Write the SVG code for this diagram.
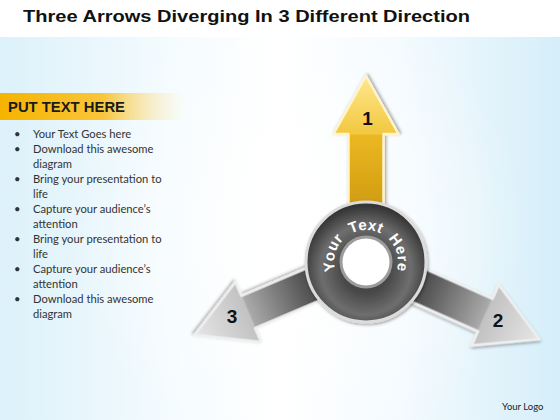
<svg xmlns="http://www.w3.org/2000/svg" width="560" height="420" viewBox="0 0 560 420">
<defs>
<style>
.title{font-family:"Liberation Sans",Arial,sans-serif;font-weight:bold;font-size:17px;fill:#111}
.head{font-family:"Liberation Sans",Arial,sans-serif;font-weight:bold;font-size:14.5px;fill:#1a1a1a}
.bl{font-family:Lato,"Liberation Sans",sans-serif;font-size:11.2px;fill:#333}
.num{font-family:"Liberation Sans",Arial,sans-serif;font-weight:bold;font-size:19px;fill:#111;text-anchor:middle}
.ring{font-family:"Liberation Sans",Arial,sans-serif;font-weight:bold;font-size:15px;fill:#fff}
.logo{font-family:Lato,"Liberation Sans",sans-serif;font-size:9.5px;fill:#222}
</style>
<linearGradient id="bg" x1="0" y1="0" x2="1" y2="0">
<stop offset="0" stop-color="#dcf1fa"/>
<stop offset="0.3" stop-color="#f4fbfe"/>
<stop offset="0.5" stop-color="#ffffff"/>
<stop offset="0.72" stop-color="#f3fafe"/>
<stop offset="1" stop-color="#d5eef9"/>
</linearGradient>
<radialGradient id="bgc" cx="300" cy="230" r="230" gradientUnits="userSpaceOnUse">
<stop offset="0" stop-color="#fff" stop-opacity="0.9"/>
<stop offset="1" stop-color="#fff" stop-opacity="0"/>
</radialGradient>
<linearGradient id="band" x1="0" y1="0" x2="1" y2="0">
<stop offset="0" stop-color="#f6b400"/>
<stop offset="0.55" stop-color="#f9c53a"/>
<stop offset="1" stop-color="#fde9a8" stop-opacity="0"/>
</linearGradient>
<linearGradient id="gold" x1="0" y1="0" x2="186" y2="0" gradientUnits="userSpaceOnUse">
<stop offset="0.3" stop-color="#d09c10"/>
<stop offset="0.68" stop-color="#ebb823"/>
<stop offset="0.69" stop-color="#f3c840"/>
<stop offset="1" stop-color="#fde88e"/>
</linearGradient>
<linearGradient id="gray" x1="0" y1="0" x2="186" y2="0" gradientUnits="userSpaceOnUse">
<stop offset="0.3" stop-color="#474747"/>
<stop offset="0.68" stop-color="#a9a9a9"/>
<stop offset="0.69" stop-color="#c2c2c2"/>
<stop offset="1" stop-color="#e6e6e6"/>
</linearGradient>
<radialGradient id="hubg" cx="366" cy="270" r="64" gradientUnits="userSpaceOnUse">
<stop offset="0.35" stop-color="#474747"/>
<stop offset="0.7" stop-color="#6e6e6e"/>
<stop offset="1" stop-color="#363636"/>
</radialGradient>
<filter id="sh" x="-20%" y="-20%" width="140%" height="140%">
<feDropShadow dx="1" dy="1.5" stdDeviation="1.5" flood-color="#000" flood-opacity="0.35"/>
</filter>
<path id="arr" d="M 0,-17.5 L 128,-17.5 L 128,-32.5 L 186,0 L 128,32.5 L 128,17.5 L 0,17.5 Z"/>
<path id="tp" d="M 337.0,275.5 A 32 32 0 1 1 395.0,275.5"/>
</defs>

<rect width="560" height="420" fill="#fff"/>
<rect y="37" width="560" height="383" fill="url(#bg)"/>
<rect y="37" width="560" height="383" fill="url(#bgc)"/>

<text class="title" x="23" y="22" textLength="447" lengthAdjust="spacingAndGlyphs">Three Arrows Diverging In 3 Different Direction</text>

<g id="text-panel">
<rect x="0" y="93" width="186" height="27" fill="url(#band)"/>
<text class="head" x="8" y="112" textLength="117" lengthAdjust="spacingAndGlyphs">PUT TEXT HERE</text>
<g class="bl">
<text x="14" y="138">•<tspan x="33">Your Text Goes here</tspan></text>
<text x="14" y="153">•<tspan x="33">Download this awesome</tspan><tspan x="33" y="168">diagram</tspan></text>
<text x="14" y="183">•<tspan x="33">Bring your presentation to</tspan><tspan x="33" y="198">life</tspan></text>
<text x="14" y="213">•<tspan x="33">Capture your audience’s</tspan><tspan x="33" y="228">attention</tspan></text>
<text x="14" y="243">•<tspan x="33">Bring your presentation to</tspan><tspan x="33" y="258">life</tspan></text>
<text x="14" y="273">•<tspan x="33">Capture your audience’s</tspan><tspan x="33" y="288">attention</tspan></text>
<text x="14" y="303">•<tspan x="33">Download this awesome</tspan><tspan x="33" y="318">diagram</tspan></text>
</g>
</g>

<g id="arrows">
<g id="arrow-3" transform="translate(366,262) rotate(157)">
<use href="#arr" fill="url(#gray)" stroke="#efefef" stroke-width="2.5" stroke-linejoin="round" filter="url(#sh)"/>
</g>
<g id="arrow-2" transform="translate(366,262) rotate(24) scale(1.02)">
<use href="#arr" fill="url(#gray)" stroke="#efefef" stroke-width="2.5" stroke-linejoin="round" filter="url(#sh)"/>
</g>
<g id="arrow-1" transform="translate(366,262) rotate(-90)">
<use href="#arr" fill="url(#gold)" stroke="#fff4cc" stroke-width="2.5" stroke-linejoin="round" filter="url(#sh)"/>
</g>
</g>

<g id="hub">
<circle cx="366" cy="262" r="60" fill="url(#hubg)" stroke="#dcdcdc" stroke-width="3" filter="url(#sh)"/>
<circle cx="366" cy="262" r="26.5" fill="#9c9c9c"/>
<circle cx="366" cy="262" r="23.5" fill="#fff"/>
<text class="ring" letter-spacing="0.4" word-spacing="4"><textPath href="#tp" startOffset="50%" text-anchor="middle">Your Text Here</textPath></text>
</g>

<g id="labels">
<text class="num" x="367.5" y="125">1</text>
<text class="num" x="498" y="327">2</text>
<text class="num" x="232" y="323">3</text>
</g>

<text class="logo" x="502" y="410">Your Logo</text>
</svg>
